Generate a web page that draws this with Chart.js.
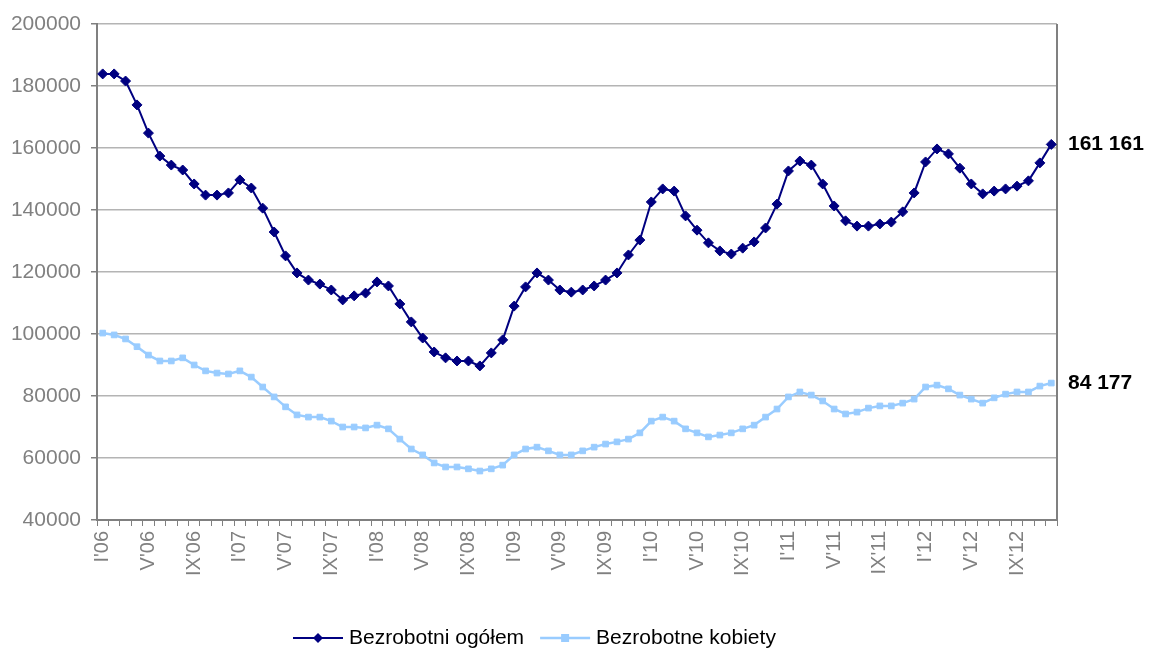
<!DOCTYPE html>
<html lang="pl">
<head>
    <meta charset="UTF-8">
    <title>Bezrobotni</title>
    <script src="https://cdn.jsdelivr.net/npm/chart.js"></script>
    <style>
        body { margin: 0; padding: 0; background-color: #fff; }
        #wrap { width: 1149px; height: 650px; }
    </style>
</head>
<body>
    <div id="wrap"><canvas id="myChart" width="1149" height="650"></canvas></div>
    <script>
        const months = ['I', 'II', 'III', 'IV', 'V', 'VI', 'VII', 'VIII', 'IX', 'X', 'XI', 'XII'];
        const years = ['06', '07', '08', '09', '10', '11', '12'];
        const labels = years.flatMap(y => months.map(m => m + "'" + y));

        const ogolem = [
            183900, 183900, 181600, 173900, 164800, 157400, 154500, 152900, 148400, 144800, 144800, 145500,
            149700, 147100, 140600, 132900, 125200, 119700, 117400, 116100, 114200, 111000, 112300, 113200,
            116800, 115500, 109700, 103900, 98700, 94200, 92300, 91300, 91300, 89700, 93900, 98100,
            109000, 115200, 119700, 117400, 114200, 113500, 114200, 115500, 117400, 119700, 125500, 130300,
            142600, 146800, 146100, 138100, 133500, 129400, 126800, 125800, 127700, 129700, 134200, 141900,
            152600, 155800, 154500, 148400, 141300, 136500, 134800, 134800, 135500, 136100, 139400, 145500,
            155500, 159700, 158100, 153500, 148400, 145200, 146100, 146800, 147700, 149400, 155200, 161161
        ];
        const kobiety = [
            100300, 99700, 98400, 95900, 93200, 91300, 91300, 92300, 90000, 88100, 87400, 87100,
            88100, 86100, 82900, 79700, 76500, 73900, 73200, 73200, 71900, 70000, 70000, 69700,
            70600, 69400, 66100, 62900, 61000, 58400, 57100, 57100, 56500, 55800, 56500, 57700,
            61000, 62900, 63500, 62300, 61000, 61000, 62300, 63500, 64500, 65200, 66100, 68100,
            71900, 73200, 71900, 69400, 68100, 66800, 67400, 68100, 69400, 70600, 73200, 75800,
            79700, 81300, 80300, 78400, 75800, 74200, 74800, 76100, 76800, 76800, 77700, 79000,
            82900, 83500, 82300, 80300, 79000, 77700, 79400, 80600, 81300, 81300, 83200, 84177
        ];

        const gray = '#808080';
        const font = '"Liberation Sans", Arial, sans-serif';

        // obramowanie z prawej strony
        const borderPlugin = {
            id: 'borderPlugin',
            beforeDatasetsDraw(chart) {
                const { ctx, chartArea } = chart;
                ctx.save();
                ctx.strokeStyle = gray;
                ctx.lineWidth = 2;
                ctx.beginPath();
                ctx.moveTo(chartArea.right, chartArea.top);
                ctx.lineTo(chartArea.right, chartArea.bottom);
                ctx.stroke();
                ctx.restore();
            }
        };

        // wartosci na koncu linii
        const endLabels = {
            id: 'endLabels',
            afterDatasetsDraw(chart) {
                const { ctx, chartArea } = chart;
                const y = chart.scales.y;
                ctx.save();
                ctx.font = 'bold 21px ' + font;
                ctx.fillStyle = '#000';
                ctx.textBaseline = 'middle';
                chart.data.datasets.forEach(ds => {
                    const v = ds.data[ds.data.length - 1];
                    const txt = String(v).replace(/\B(?=(\d{3})+(?!\d))/g, ' ');
                    ctx.fillText(txt, chartArea.right + 11, y.getPixelForValue(v));
                });
                ctx.restore();
            }
        };

        // legenda: linia + znacznik + tekst
        const lineLegend = {
            id: 'lineLegend',
            afterDraw(chart) {
                const ctx = chart.ctx;
                const ly = 638;
                let x = 293;
                ctx.save();
                ctx.font = '21px ' + font;
                ctx.textBaseline = 'middle';
                chart.data.datasets.forEach(ds => {
                    ctx.strokeStyle = ds.borderColor;
                    ctx.lineWidth = ds.borderWidth;
                    ctx.beginPath();
                    ctx.moveTo(x, ly);
                    ctx.lineTo(x + 50, ly);
                    ctx.stroke();
                    ctx.fillStyle = ds.pointBackgroundColor;
                    ctx.beginPath();
                    if (ds.pointStyle === 'rectRot') {
                        ctx.moveTo(x + 25, ly - 5);
                        ctx.lineTo(x + 30, ly);
                        ctx.lineTo(x + 25, ly + 5);
                        ctx.lineTo(x + 20, ly);
                        ctx.closePath();
                    } else {
                        ctx.rect(x + 21, ly - 4, 8, 8);
                    }
                    ctx.fill();
                    ctx.fillStyle = '#000';
                    ctx.fillText(ds.label, x + 56, ly);
                    x += 56 + ctx.measureText(ds.label).width + 16;
                });
                ctx.restore();
            }
        };

        new Chart(document.getElementById('myChart'), {
            type: 'line',
            data: {
                labels: labels,
                datasets: [{
                    label: 'Bezrobotni ogółem',
                    data: ogolem,
                    borderColor: '#000080',
                    backgroundColor: '#000080',
                    pointBackgroundColor: '#000080',
                    pointBorderColor: '#000080',
                    pointStyle: 'rectRot',
                    pointRadius: 5,
                    pointBorderWidth: 1,
                    borderWidth: 2,
                    tension: 0
                }, {
                    label: 'Bezrobotne kobiety',
                    data: kobiety,
                    borderColor: '#99CCFF',
                    backgroundColor: '#99CCFF',
                    pointBackgroundColor: '#99CCFF',
                    pointBorderColor: '#99CCFF',
                    pointStyle: 'rect',
                    pointRadius: 4,
                    pointBorderWidth: 1,
                    borderWidth: 2.5,
                    tension: 0
                }]
            },
            options: {
                responsive: false,
                animation: false,
                layout: { padding: { top: 24, right: 92, bottom: 50, left: 0 } },
                plugins: {
                    legend: { display: false },
                    tooltip: { enabled: false }
                },
                scales: {
                    x: {
                        offset: true,
                        afterFit(scale) { scale.height = 80; },
                        grid: {
                            offset: true,
                            drawOnChartArea: false,
                            tickLength: 6,
                            tickColor: gray
                        },
                        border: { color: gray, width: 2 },
                        ticks: {
                            autoSkip: false,
                            minRotation: 90,
                            maxRotation: 90,
                            padding: 5,
                            color: gray,
                            font: { family: font, size: 20 },
                            callback: function (val, index) {
                                return index % 4 === 0 ? this.getLabelForValue(val) : '';
                            }
                        }
                    },
                    y: {
                        min: 40000,
                        max: 200000,
                        afterFit(scale) { scale.width = 97; },
                        grid: {
                            color: '#b4b4b4',
                            lineWidth: 1.5,
                            tickLength: 6,
                            tickColor: gray
                        },
                        border: { color: gray, width: 2 },
                        ticks: {
                            stepSize: 20000,
                            padding: 10,
                            color: gray,
                            font: { family: font, size: 21 },
                            callback: v => String(v)
                        }
                    }
                }
            },
            plugins: [borderPlugin, endLabels, lineLegend]
        });
    </script>
</body>
</html>
